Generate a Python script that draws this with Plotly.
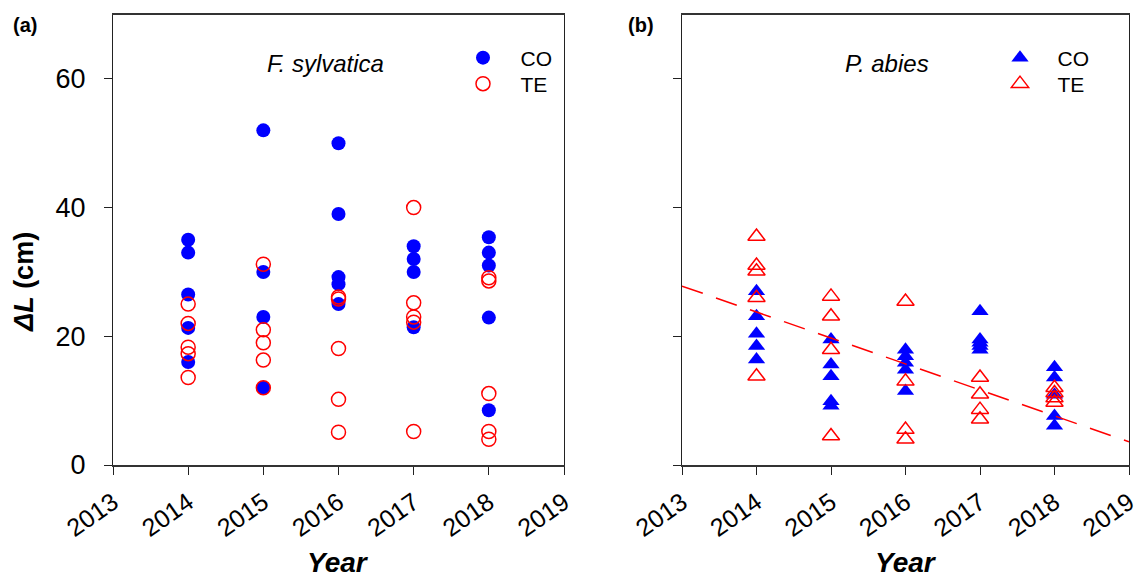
import plotly.graph_objects as go

# ---------------- data ----------------
years = [2014, 2015, 2016, 2017, 2018]

# (a) F. sylvatica
fs_co = [
    [35.0, 33.0, 26.5, 21.3, 16.0],
    [52.0, 30.0, 23.0, 12.0],
    [50.0, 39.0, 29.2, 28.1, 25.0],
    [34.0, 32.0, 30.0, 21.4],
    [35.4, 33.0, 31.0, 22.9, 8.5],
]
fs_te = [
    [25.0, 22.0, 18.3, 17.3, 13.6],
    [31.2, 21.0, 19.0, 16.3, 12.0],
    [26.1, 25.8, 18.1, 10.2, 5.1],
    [40.0, 25.2, 23.0, 22.2, 5.2],
    [29.1, 28.6, 11.1, 5.2, 4.0],
]

# (b) P. abies
pa_co = [
    [27.0, 23.1, 20.4, 18.5, 16.4],
    [19.5, 15.6, 13.8, 9.9, 9.2],
    [17.9, 16.9, 15.9, 14.8, 11.5],
    [23.9, 19.5, 19.0, 18.5, 17.9],
    [15.2, 13.6, 10.9, 7.6, 6.1],
]
pa_te = [
    [35.5, 31.0, 30.1, 26.0, 13.8],
    [26.2, 23.1, 17.9, 4.5],
    [25.4, 13.0, 5.5, 4.0],
    [13.6, 11.0, 8.6, 7.1],
    [12.0, 11.2, 10.4, 9.7],
]

# regression line for P. abies TE
trend_x = [2013, 2019]
trend_y = [27.8, 3.6]

x_ticks = [2013, 2014, 2015, 2016, 2017, 2018, 2019]
x_tick_labels = ["2013", "2014", "2015", "2016", "2017", "2018", "2019"]
y_ticks = [0, 20, 40, 60]


def flat(groups):
    xs, ys = [], []
    for yr, vals in zip(years, groups):
        for v in vals:
            xs.append(yr)
            ys.append(v)
    return xs, ys


BLUE = "#0000FF"
RED = "#FF0000"
FONT = "Liberation Sans, Arial, sans-serif"
W, H = 1141, 580

fig = go.Figure()

x, y = flat(fs_co)
fig.add_trace(go.Scatter(x=x, y=y, mode="markers", name="\u00a0\u00a0\u00a0CO",
                         marker=dict(symbol="circle", size=14, color=BLUE, line=dict(width=0)),
                         xaxis="x", yaxis="y", legend="legend"))
x, y = flat(fs_te)
fig.add_trace(go.Scatter(x=x, y=y, mode="markers", name="\u00a0\u00a0\u00a0TE",
                         marker=dict(symbol="circle-open", size=14, color=RED, line=dict(width=1.5, color=RED)),
                         xaxis="x", yaxis="y", legend="legend2"))

x, y = flat(pa_co)
fig.add_trace(go.Scatter(x=x, y=y, mode="markers", name="\u00a0\u00a0\u00a0CO",
                         marker=dict(symbol="triangle-up", size=15, color=BLUE, line=dict(width=0)),
                         xaxis="x2", yaxis="y2", legend="legend3"))
x, y = flat(pa_te)
fig.add_trace(go.Scatter(x=x, y=y, mode="markers", name="\u00a0\u00a0\u00a0TE",
                         marker=dict(symbol="triangle-up-open", size=15, color=RED, line=dict(width=1.5, color=RED)),
                         xaxis="x2", yaxis="y2", legend="legend4"))
fig.add_trace(go.Scatter(x=trend_x, y=trend_y, mode="lines", showlegend=False,
                         line=dict(color=RED, width=1.5, dash="22px,14px"),
                         xaxis="x2", yaxis="y2"))

ydom = [1 - 465 / H, 1 - 14.5 / H]
xdom_a = [113 / W, 564 / W]
xdom_b = [682 / W, 1129 / W]

xaxis_common = dict(range=[2013, 2019], tickvals=x_ticks,
                    ticktext=x_tick_labels, tickangle=-35,
                    ticks="outside", ticklen=8, tickwidth=1.3, tickcolor="#222",
                    showline=True, linecolor="#333", linewidth=2, mirror=True,
                    showgrid=False, zeroline=False, automargin=False,
                    ticklabeloverflow="allow", ticklabelstandoff=3,
                    tickfont=dict(family=FONT, size=25, color="black"))
yaxis_common = dict(range=[0, 70], tickvals=y_ticks,
                    ticks="outside", ticklen=8, tickwidth=1.3, tickcolor="#222",
                    showline=True, linecolor="#222", linewidth=1.3, mirror=True,
                    showgrid=False, zeroline=False, ticklabelstandoff=13, automargin=False,
                    tickfont=dict(family=FONT, size=27, color="black"))


def leg(xpx, ypx):
    return dict(x=xpx / W, y=1 - ypx / H, xanchor="left", yanchor="middle",
                bgcolor="rgba(0,0,0,0)", borderwidth=0,
                font=dict(family=FONT, size=21, color="black"),
                itemsizing="trace")


fig.update_layout(
    width=W, height=H,
    margin=dict(l=0, r=0, t=0, b=0, autoexpand=False),
    paper_bgcolor="white", plot_bgcolor="white",
    font=dict(family=FONT, color="black"),
    xaxis=dict(domain=xdom_a, anchor="y", **xaxis_common),
    yaxis=dict(domain=ydom, anchor="x", **yaxis_common),
    xaxis2=dict(domain=xdom_b, anchor="y2", **xaxis_common),
    yaxis2=dict(domain=ydom, anchor="x2", showticklabels=False, **yaxis_common),
    legend=leg(463, 58),
    legend2=leg(463, 84),
    legend3=leg(1000, 58),
    legend4=leg(1000, 84),
    showlegend=True,
)

annos = [
    dict(text="<i>F. sylvatica</i>", x=325 / W, y=1 - 63 / H, size=24),
    dict(text="<i>P. abies</i>", x=887 / W, y=1 - 63 / H, size=24),
    dict(text="<b>(a)</b>", x=25 / W, y=1 - 25 / H, size=20),
    dict(text="<b>(b)</b>", x=641 / W, y=1 - 25 / H, size=20),
    dict(text="<b><i>Year</i></b>", x=338 / W, y=1 - 562 / H, size=28),
    dict(text="<b><i>Year</i></b>", x=906 / W, y=1 - 562 / H, size=28),
]
for a in annos:
    fig.add_annotation(text=a["text"], x=a["x"], y=a["y"], xref="paper", yref="paper",
                       xanchor="center", yanchor="middle", showarrow=False,
                       font=dict(family=FONT, size=a["size"], color="black"))

fig.add_annotation(text="<b><i>\u0394L</i> (cm)</b>", x=24 / W, y=1 - 282 / H,
                   xref="paper", yref="paper", xanchor="center", yanchor="middle",
                   textangle=-90, showarrow=False,
                   font=dict(family=FONT, size=27, color="black"))

fig.write_html("out.html")
